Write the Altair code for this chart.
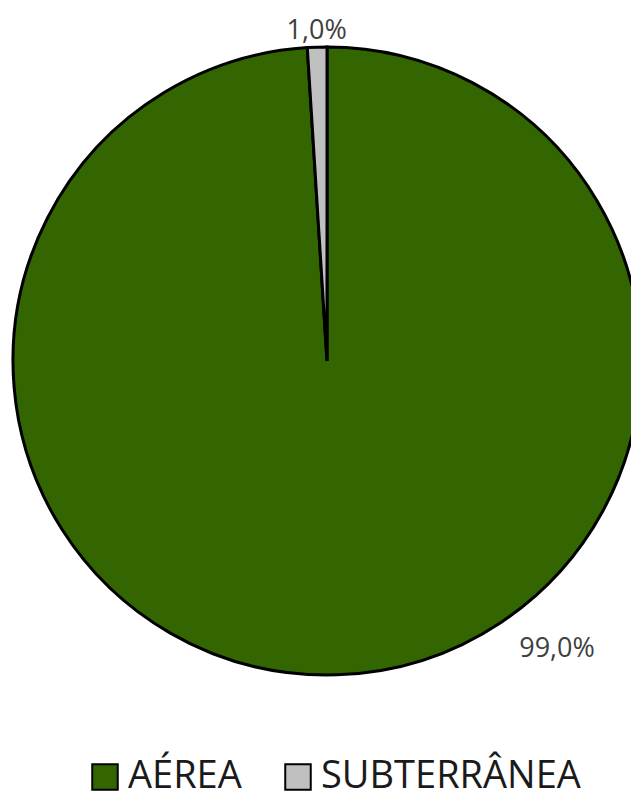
import altair as alt
import pandas as pd

categories = ["AÉREA", "SUBTERRÂNEA"]
values = [99.0, 1.0]
colors = ["#336600", "#c0c0c0"]

df = pd.DataFrame({"cat": categories, "value": values, "ord": list(range(len(categories)))})

CX, CY, R = 319, 353, 314

base = alt.Chart(df)

pie = base.mark_arc(stroke="black", strokeWidth=3, radius=R).encode(
    theta=alt.Theta("value:Q", stack=True),
    order=alt.Order("ord:Q"),
    color=alt.Color(
        "cat:N",
        scale=alt.Scale(domain=categories, range=colors),
        sort=categories,
        legend=alt.Legend(
            title=None,
            orient="none",
            direction="horizontal",
            legendX=78,
            legendY=750,
            padding=0,
            symbolType="square",
            symbolSize=650,
            symbolStrokeColor="black",
            symbolStrokeWidth=2,
            symbolOpacity=1,
            labelFont="Open Sans",
            labelFontSize=38,
            labelColor="#1a1a1a",
            labelOffset=4,
            columnPadding=37,
            labelLimit=400,
        ),
    ),
    x=alt.value(CX),
    y=alt.value(CY),
)

lab_base = base.transform_window(
    cum="sum(value)", sort=[alt.SortField("ord")], frame=[None, 0]
).transform_calculate(
    mid="datum.cum - datum.value / 2",
    label="replace(format(datum.value, '.1f'), '.', ',') + '%'",
)

theta_scale = alt.Scale(domain=[0, 100], range=[0, 6.283185307179586])

lab_small = lab_base.transform_filter(alt.datum.cat == "SUBTERRÂNEA").mark_text(
    font="Open Sans", fontSize=27, color="#404040", align="center", baseline="middle"
).encode(
    theta=alt.Theta("mid:Q", scale=theta_scale, stack=None),
    radius=alt.value(330),
    text="label:N",
    x=alt.value(CX),
    y=alt.value(CY),
)

lab_big = lab_base.transform_filter(alt.datum.cat == "AÉREA").mark_text(
    font="Open Sans", fontSize=27, color="#404040", align="center", baseline="middle",
    dx=221,
).encode(
    theta=alt.Theta("mid:Q", scale=theta_scale, stack=None),
    radius=alt.value(288),
    text="label:N",
    x=alt.value(CX),
    y=alt.value(CY),
)

chart = alt.layer(pie, lab_small, lab_big).properties(
    width=623, height=793, autosize=alt.AutoSizeParams(type="none"), padding=0
).configure(font="Open Sans").configure_view(stroke=None)

chart.save("out.html", embed_options={"renderer": "svg", "actions": False})
